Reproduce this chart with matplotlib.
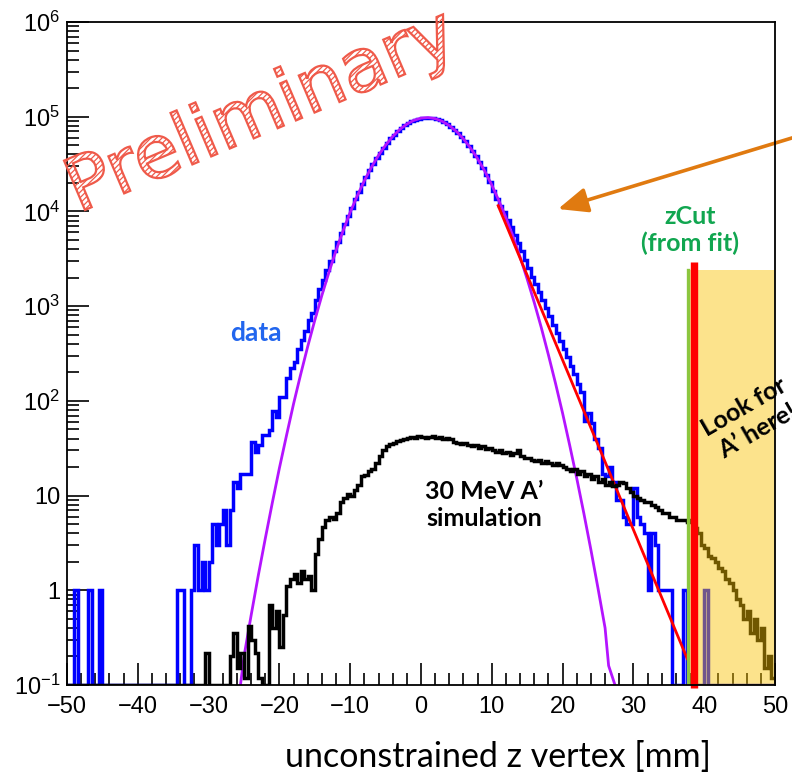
import numpy as np
import matplotlib
matplotlib.use("Agg")
import matplotlib.pyplot as plt
from matplotlib.patches import PathPatch
from matplotlib.textpath import TextPath
from matplotlib.font_manager import FontProperties
from matplotlib.transforms import Affine2D
from matplotlib.ticker import MultipleLocator, LogLocator, NullFormatter, FixedLocator, FixedFormatter

# --- histogram binning: 200 bins of 0.5 mm between -50 and 50 mm
z_lo, z_hi, n_bins = -50.0, 50.0, 200

# data: reconstructed vertex z (counts per bin)
data_counts = [
    0, 0, 1, 0, 0, 0, 1, 0, 0, 1,
    0, 0, 0, 0, 0, 0, 0, 0, 0, 0,
    0, 0, 0, 0, 0, 0, 0, 0, 0, 0,
    0, 1, 1, 0, 0, 1, 3, 1, 2, 1,
    2, 5, 3, 5, 7, 3, 7, 14, 12, 17,
    17, 17, 37, 29, 34, 44, 44, 49, 79, 68,
    111, 111, 174, 220, 260, 350, 440, 550, 710, 850,
    1170, 1500, 1900, 2400, 3000, 3800, 4700, 5900, 7300, 9000,
    11000, 13400, 16200, 19400, 23000, 27100, 31600, 36500, 41700, 47200,
    53000, 58900, 64700, 70500, 76000, 81200, 85800, 89900, 93200, 95700,
    97300, 98000, 97700, 96400, 94300, 91300, 87500, 83100, 78100, 72700,
    67000, 61200, 55300, 49500, 43900, 38500, 33400, 28800, 24500, 20700,
    16500, 13500, 11500, 9800, 8200, 6800, 5600, 4600, 3800, 3100,
    2500, 2050, 1700, 1400, 1150, 950, 790, 640, 520, 430,
    350, 290, 235, 190, 150, 125, 62, 75, 58, 40,
    32, 17, 16, 20, 14, 9, 9, 6, 5, 5,
    12, 6, 5, 4, 1, 4, 3, 1, 1, 1,
    1, 0, 0, 0, 1, 0, 0, 0, 0, 0,
    1, 0, 0, 0, 0, 0, 0, 0, 0, 0,
    0, 0, 0, 0, 0, 0, 0, 0, 0, 0,
]

# 30 MeV A' signal simulation (scaled)
sim_counts = [
    0, 0, 0, 0, 0, 0, 0, 0, 0, 0,
    0, 0, 0, 0, 0, 0, 0, 0, 0, 0,
    0, 0, 0, 0, 0, 0, 0, 0, 0, 0,
    0, 0, 0, 0, 0, 0, 0, 0, 0, 0.22,
    0, 0, 0, 0, 0, 0, 0.2, 0.35, 0.15, 0.22,
    0.12, 0.42, 0.3, 0.22, 0.12, 0, 0, 0.7, 0.4, 0.6,
    0.25, 0.55, 1.1, 1.3, 1.5, 1.2, 1.6, 1.3, 1.4, 1.0,
    2.4, 3.5, 4.7, 5.5, 6.0, 5.6, 6.5, 8.5, 9.5, 10.5,
    10, 11.5, 13, 16, 16.5, 18, 19, 22, 26, 30,
    33, 35, 36, 38, 39, 40, 41, 42, 41, 43,
    42, 41, 42, 43, 41, 42, 40, 41, 40, 37,
    36, 35, 36, 34, 33, 34, 32, 33, 31, 32,
    30, 29, 30, 28, 29, 27, 28, 30, 26, 25,
    25, 24, 23, 24, 22, 23, 22, 21, 22, 21,
    20, 19, 18, 19, 17, 18, 16, 17, 15, 16,
    14, 15, 13, 14, 12.5, 13, 14, 13.5, 12, 11,
    10, 9.5, 9, 8.5, 8.5, 8, 7.5, 7, 6.5, 6.5,
    6, 6, 5.5, 5.5, 5.5, 5.2, 5.5, 4.5, 4, 3,
    2.8, 2.3, 2.2, 2, 1.7, 1.6, 1.3, 1.2, 1.0, 0.8,
    0.7, 0.5, 0.6, 0.35, 0.5, 0.3, 0.4, 0.15, 0.2, 0.12,
]
assert len(data_counts) == n_bins and len(sim_counts) == n_bins

# gaussian core fit
gaus_z = [-25.5, -25, -24, -23, -22, -21, -20, -19, -18, -17, -16, -15, -14,
          -13, -12, -11, -10, -9, -8, -7, -6, -5, -4, -3, -2, -1, 0, 1, 2,
          3, 4, 5, 6, 7, 8, 9, 10, 11, 12, 13, 14, 15, 16, 17, 18, 19, 20,
          21, 22, 23, 24, 25, 26, 26.5, 27.4]
gaus_val = [0.1, 0.20, 0.54, 1.41, 3.5, 8.4, 19.5, 43, 93, 190, 375, 710, 1300,
            2280, 3870, 6250, 9800, 14600, 21100, 29300, 39100, 50100, 61800,
            73300, 83600, 91600, 96600, 98000, 95500, 89500, 80700, 69900,
            58300, 46700, 36000, 26700, 19000, 13000, 8560, 5440, 3300, 1930,
            1090, 590, 305, 153, 74, 34, 15.2, 6.5, 2.67, 1.05, 0.40, 0.16, 0.1]

# exponential tail fit
tail_z = [10.9, 37.6]
tail_val = [11500, 0.19]

# cut and search region
fit_edge = 37.7
zcut = 38.5
region_top = 2400
zcut_top = 2900

# y axis decades
y_ticks = [0.1, 1, 10, 1e2, 1e3, 1e4, 1e5, 1e6]
y_labels = ["$10^{-1}$", "1", "10", "$10^{2}$", "$10^{3}$", "$10^{4}$", "$10^{5}$", "$10^{6}$"]

plt.rcParams["font.family"] = ["Liberation Sans", "DejaVu Sans"]
plt.rcParams["mathtext.fontset"] = "custom"
plt.rcParams["mathtext.rm"] = "Liberation Sans"
plt.rcParams["mathtext.it"] = "Liberation Sans:italic"
plt.rcParams["mathtext.bf"] = "Liberation Sans:bold"
plt.rcParams["hatch.linewidth"] = 0.9

W, H = 792, 774
fig = plt.figure(figsize=(W / 100, H / 100), dpi=100)
ax = fig.add_axes([67 / W, 1 - 685 / H, 708 / W, 663 / H])


def px(x, y):
    # pixel position (from top-left) -> figure fraction
    return x / W, 1 - y / H


edges = np.linspace(z_lo, z_hi, n_bins + 1)
ymin = 0.1

ax.stairs(np.clip(data_counts, ymin, None), edges, baseline=None,
          color="#0000ff", lw=2.5, zorder=2)
ax.plot(gaus_z, gaus_val, color="#b414ff", lw=2.0, zorder=3)
ax.plot(tail_z, tail_val, color="#ff0000", lw=2.0, zorder=3.5)
ax.stairs(np.clip(sim_counts, ymin, None), edges, baseline=None,
          color="black", lw=2.5, zorder=4)

# A' search region beyond the cut
ax.fill_between([fit_edge, z_hi], ymin, region_top, color="#f9c200",
                alpha=0.45, lw=0, zorder=5)
ax.plot([fit_edge, fit_edge], [ymin, region_top], color="#8cc63f", lw=2.4, zorder=6)
ax.plot([zcut, zcut], [0.092, zcut_top], color="#ff0000", lw=5.3, zorder=7,
        solid_capstyle="butt", clip_on=False)

ax.set_xlim(z_lo, z_hi)
ax.set_yscale("log")
ax.set_ylim(ymin, 1e6)

ax.xaxis.set_major_locator(MultipleLocator(10))
ax.xaxis.set_minor_locator(MultipleLocator(2))
ax.yaxis.set_major_locator(FixedLocator(y_ticks))
ax.yaxis.set_major_formatter(FixedFormatter(y_labels))
ax.yaxis.set_minor_locator(LogLocator(base=10, subs=np.arange(2, 10)))
ax.yaxis.set_minor_formatter(NullFormatter())
ax.tick_params(which="both", direction="in", top=False, right=False,
               width=1.2, labelsize=17)
ax.tick_params(which="major", length=15.5)
ax.tick_params(which="minor", length=8.5)
ax.tick_params(axis="y", pad=5)
ax.tick_params(axis="x", pad=8)
for side in ax.spines.values():
    side.set_linewidth(1.3)
    side.set_zorder(8)

# annotations
fig.text(*px(256, 333), "data", color="#2266ee", fontsize=19,
         fontweight="bold", family="Lato", ha="center", va="center")
fig.text(*px(484, 505), "30 MeV A\u2019\nsimulation", color="black", fontsize=18,
         fontweight="bold", family="Lato", ha="center", va="center",
         linespacing=1.2)
fig.text(*px(690, 230), "zCut\n(from fit)", color="#11a650", fontsize=18,
         fontweight="bold", family="Lato", ha="center", va="center",
         linespacing=1.2)
fig.text(*px(751, 419), "Look for\nA\u2019 here!", color="black", fontsize=18,
         fontweight="bold", family="Lato", ha="center", va="center",
         rotation=30, rotation_mode="anchor", linespacing=1.2, zorder=9)
fig.text(*px(498, 757), "unconstrained z vertex [mm]", color="black",
         fontsize=24.5, family="Lato", ha="center", va="center")

ax.annotate("", xy=px(558, 209), xytext=px(805, 134),
            xycoords="figure fraction", textcoords="figure fraction",
            arrowprops=dict(arrowstyle="-|>,head_length=0.9,head_width=0.38",
                            color="#e07a10", lw=2.6, mutation_scale=20,
                            shrinkA=0, shrinkB=0))

# outlined "Preliminary" stamp
tp = TextPath((0, 0), "Preliminary", size=100, prop=FontProperties(family="DejaVu Sans"))
bb = tp.get_extents()
s = 406 / bb.width
stamp = Affine2D().translate(-bb.x0, 0).scale(s).rotate_deg(23).translate(85, H - 210)
fig.add_artist(PathPatch(tp, transform=stamp, facecolor="none",
                         edgecolor="#ef5a4a", hatch="//////", lw=1.6, zorder=10))

fig.savefig("out.png", dpi=100)
